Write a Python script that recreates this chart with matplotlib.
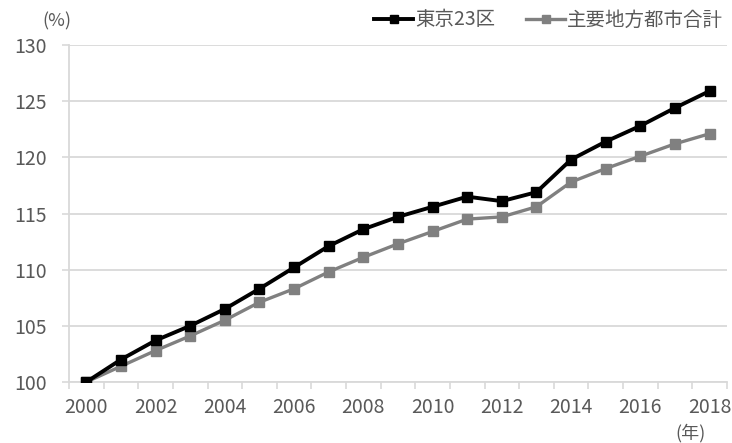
import matplotlib
matplotlib.use('Agg')
import matplotlib.pyplot as plt
from matplotlib.ticker import FixedLocator

plt.rcParams['font.family'] = ['Noto Sans CJK JP', 'DejaVu Sans']

years = list(range(2000, 2019))
tokyo = [100.0, 102.0, 103.7, 105.0, 106.5, 108.3, 110.2, 112.1, 113.6, 114.7,
         115.6, 116.5, 116.1, 116.9, 119.8, 121.4, 122.8, 124.4, 125.9]
regional = [100.0, 101.4, 102.8, 104.1, 105.5, 107.1, 108.3, 109.8, 111.1, 112.3,
            113.4, 114.5, 114.7, 115.6, 117.8, 119.0, 120.1, 121.2, 122.1]
labels = ['東京23区', '主要地方都市合計']

txt = '#595959'
grid = '#d9d9d9'

fig = plt.figure(figsize=(7.32, 4.43), dpi=100)
ax = fig.add_axes([0.0943, 0.1377, 0.8987, 0.7607])

idx = list(range(len(years)))
ax.plot(idx, tokyo, c='black', lw=2.8, marker='s', ms=7.5, label=labels[0], zorder=4)
ax.plot(idx, regional, c='#808080', lw=2.4, marker='s', ms=7.5, label=labels[1], zorder=3)

ax.set_xlim(-0.5, len(years) - 0.5)
ax.set_ylim(100, 130)
ax.set_yticks(range(100, 131, 5))
ax.yaxis.grid(True, color=grid, lw=1.3)
ax.set_axisbelow(True)

# category axis: labels every 2 years, ticks at boundaries
ax.set_xticks(idx[::2])
ax.set_xticklabels([str(y) for y in years[::2]])
ax.xaxis.set_minor_locator(FixedLocator([i - 0.5 for i in range(len(years) + 1)]))
ax.tick_params(axis='x', which='major', length=0, pad=11, labelsize=14, labelcolor=txt)
ax.tick_params(axis='x', which='minor', length=5, width=1.2, color=grid)
ax.tick_params(axis='y', length=5, width=1.2, color=grid, pad=11, labelsize=14, labelcolor=txt)

for s in ['top', 'right']:
    ax.spines[s].set_visible(False)
for s in ['left', 'bottom']:
    ax.spines[s].set_color(grid)
    ax.spines[s].set_linewidth(1.3)

fig.text(0.078, 0.952, '(%)', color=txt, fontsize=13, ha='center', va='center')
fig.text(0.943, 0.022, '(年)', color=txt, fontsize=13, ha='center', va='center')

fig.legend(loc='center right', bbox_to_anchor=(1.012, 0.955), ncol=2, frameon=False,
           fontsize=14, labelcolor=txt, handlelength=2.0, handletextpad=0.1,
           columnspacing=1.6, numpoints=1, markerscale=0.85)

plt.savefig('out.png', dpi=100)
